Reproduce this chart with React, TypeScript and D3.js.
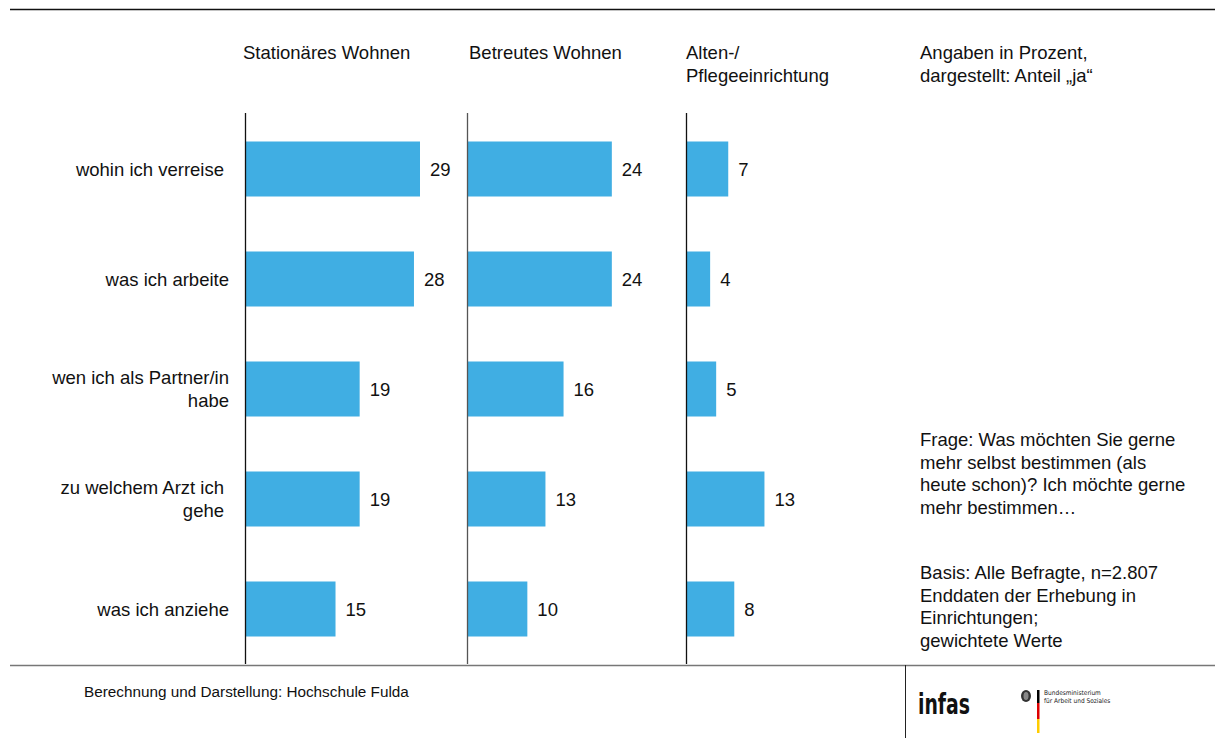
import React from "react";
import * as d3 from "d3";

const categories = [
  ["wohin ich verreise"],
  ["was ich arbeite"],
  ["wen ich als Partner/in", "habe"],
  ["zu welchem Arzt ich", "gehe"],
  ["was ich anziehe"],
];
const labelRight = [224, 229, 229, 224, 229];
const panelTitles = [["Stationäres Wohnen"], ["Betreutes Wohnen"], ["Alten-/", "Pflegeeinrichtung"]];
const stationaer = [29, 28, 19, 19, 15];
const betreut = [24, 24, 16, 13, 10];
const pflege = [7, 4, 5, 13, 8];
const seriesList = [stationaer, betreut, pflege];
const panelX = [245, 467, 686];
const noteTop = ["Angaben in Prozent,", "dargestellt: Anteil „ja“"];
const noteFrage = ["Frage: Was möchten Sie gerne", "mehr selbst bestimmen (als", "heute schon)? Ich möchte gerne", "mehr bestimmen…"];
const noteBasis = ["Basis: Alle Befragte, n=2.807", "Enddaten der Erhebung in", "Einrichtungen;", "gewichtete Werte"];

const W = 1215;
const H = 738;
const FONT = "'Liberation Sans', Arial, sans-serif";
const BLUE = "#40AEE3";

export default function App() {
  const y = d3
    .scaleBand<number>()
    .domain(d3.range(categories.length))
    .range([114, 664])
    .paddingInner(0.5)
    .paddingOuter(0.25);
  const x = d3.scaleLinear().domain([0, 29]).range([0, 175]);
  const fs = 18.5;

  return (
    <svg width={W} height={H} style={{ position: "absolute", left: 0, top: 0, background: "#fff" }} fontFamily={FONT}>
      <rect x={0} y={0} width={W} height={H} fill="#fff" />
      {/* top & bottom rules */}
      <line x1={10} x2={W} y1={9.5} y2={9.5} stroke="#111" strokeWidth={1.3} />
      <line x1={10} x2={W} y1={665.5} y2={665.5} stroke="#777" strokeWidth={1.3} />
      <line x1={905.5} x2={905.5} y1={665} y2={H} stroke="#222" strokeWidth={1} />

      {/* panel titles */}
      {panelTitles.map((t, i) => (
        <text key={"pt" + i} x={panelX[i] - 2} y={59} fontSize={fs} fill="#111">
          {t.map((l, j) => (
            <tspan key={j} x={panelX[i] - (i === 2 ? 0 : 2) + (i === 1 ? 4 : 0)} y={59 + j * 22.5}>
              {l}
            </tspan>
          ))}
        </text>
      ))}

      {/* category labels */}
      {categories.map((c, i) => {
        const cy = (y(i) as number) + y.bandwidth() / 2;
        const n = c.length;
        return (
          <text key={"c" + i} fontSize={fs} fill="#111" textAnchor="end">
            {c.map((l, j) => (
              <tspan key={j} x={labelRight[i]} y={cy + 6.5 + (j - (n - 1) / 2) * 22.5}>
                {l}
              </tspan>
            ))}
          </text>
        );
      })}

      {/* panels */}
      {seriesList.map((s, p) => (
        <g key={"p" + p} transform={`translate(${panelX[p]},0)`}>
          {s.map((v, i) => (
            <g key={i}>
              <rect x={0} y={y(i)} width={x(v)} height={y.bandwidth()} fill={BLUE} />
              <text x={x(v) + 10} y={(y(i) as number) + y.bandwidth() / 2 + 6.5} fontSize={fs} fill="#111">
                {v}
              </text>
            </g>
          ))}
          <line x1={0.5} x2={0.5} y1={113} y2={664} stroke={p === 1 ? "#555" : "#111"} strokeWidth={1.3} />
        </g>
      ))}

      {/* notes */}
      {[
        { lines: noteTop, y0: 59 },
        { lines: noteFrage, y0: 446 },
        { lines: noteBasis, y0: 579 },
      ].map((b, k) => (
        <text key={"n" + k} fontSize={fs} fill="#111">
          {b.lines.map((l, j) => (
            <tspan key={j} x={920} y={b.y0 + j * 22.6}>
              {l}
            </tspan>
          ))}
        </text>
      ))}

      {/* footer */}
      <text x={84} y={697} fontSize={15.3} fill="#111">
        Berechnung und Darstellung: Hochschule Fulda
      </text>

      {/* logos */}
      <text x={918} y={714} fontSize={28} fontWeight="bold" fill="#111" textLength={52} lengthAdjust="spacingAndGlyphs"
        fontFamily="'DejaVu Sans Condensed', 'Liberation Sans Narrow', sans-serif">
        infas
      </text>
      <g>
        <ellipse cx={1026} cy={696} rx={5} ry={6} fill="#333" />
        <ellipse cx={1026} cy={696} rx={2.5} ry={4} fill="#888" />
        <rect x={1037} y={690} width={2.5} height={13} fill="#000" />
        <rect x={1037} y={703} width={2.5} height={16} fill="#DD0000" />
        <rect x={1037} y={719} width={2.5} height={14} fill="#FFCC00" />
        <text x={1044} y={695} fontSize={6.5} fill="#222" fontFamily="'DejaVu Sans Condensed', sans-serif">Bundesministerium</text>
        <text x={1044} y={703} fontSize={6.5} fill="#222" fontFamily="'DejaVu Sans Condensed', sans-serif">für Arbeit und Soziales</text>
      </g>
    </svg>
  );
}
